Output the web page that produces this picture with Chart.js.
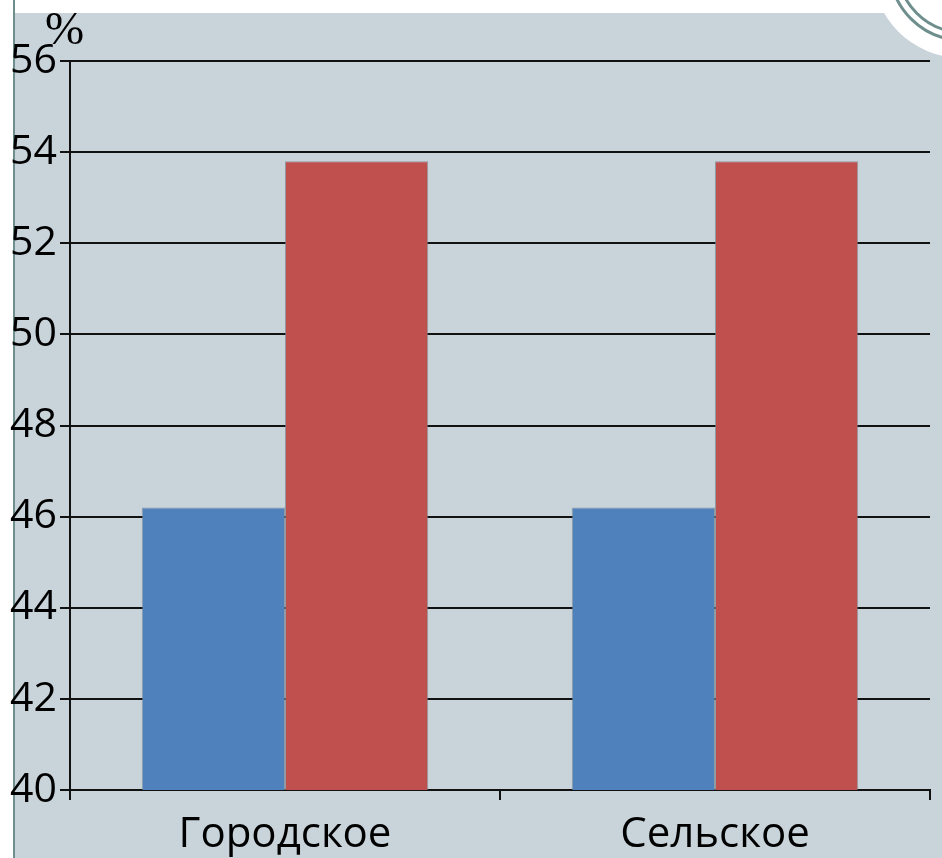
<!DOCTYPE html>
<html>
<head>
<meta charset="utf-8">
<script src="https://cdn.jsdelivr.net/npm/chart.js@4/dist/chart.umd.min.js"></script>
<style>
  html, body { margin: 0; padding: 0; background: #ffffff; }
  #wrap { position: relative; width: 942px; height: 858px; }
</style>
</head>
<body>
<div id="wrap"><canvas id="chart" width="942" height="858"></canvas></div>
<script>
'use strict';

// категории и значения (в %)
const categories = ['Городское', 'Сельское'];
const seriesBlue = [46.2, 46.2];
const seriesRed = [53.8, 53.8];
const yMin = 40;
const yMax = 56;
const yStep = 2;

const BG = '#c8d3da';

// фон слайда: серая область, линия слева и круг справа сверху
const slideBackground = {
    id: 'slideBackground',
    beforeDraw(chart) {
        const ctx = chart.ctx;
        const w = chart.width, h = chart.height;
        ctx.save();
        ctx.fillStyle = '#ffffff';
        ctx.fillRect(0, 0, w, h);
        ctx.fillStyle = BG;
        ctx.fillRect(15, 13, w - 15, h - 13);
        // белый круг в углу
        ctx.fillStyle = '#ffffff';
        ctx.beginPath();
        ctx.arc(962, -32, 90, 0, Math.PI * 2);
        ctx.fill();
        ctx.strokeStyle = '#6f8f8f';
        ctx.lineWidth = 3;
        ctx.beginPath();
        ctx.arc(962, -32, 72, 0, Math.PI * 2);
        ctx.stroke();
        ctx.beginPath();
        ctx.arc(962, -32, 64, 0, Math.PI * 2);
        ctx.stroke();
        // вертикальная линия слева
        ctx.fillStyle = '#6f8f8f';
        ctx.fillRect(13, 0, 2, h);
        ctx.restore();
    },
    afterDraw(chart) {
        const ctx = chart.ctx;
        ctx.save();
        ctx.fillStyle = '#000000';
        ctx.font = '47px "Liberation Serif"';
        ctx.textAlign = 'left';
        ctx.textBaseline = 'alphabetic';
        ctx.fillText('%', 45, 44);
        ctx.restore();
    }
};

const ctx = document.getElementById('chart').getContext('2d');
new Chart(ctx, {
    type: 'bar',
    data: {
        labels: categories,
        datasets: [
            {
                label: 'Ряд 1',
                data: seriesBlue,
                backgroundColor: '#4f81bd',
                borderColor: 'rgba(120,130,140,0.7)',
                borderWidth: 1
            },
            {
                label: 'Ряд 2',
                data: seriesRed,
                backgroundColor: '#c0504d',
                borderColor: 'rgba(120,130,140,0.7)',
                borderWidth: 1
            }
        ]
    },
    options: {
        responsive: false,
        animation: false,
        devicePixelRatio: 1,
        layout: { padding: { top: 61, right: 12, left: 0, bottom: 0 } },
        plugins: {
            legend: { display: false },
            tooltip: { enabled: false }
        },
        datasets: {
            bar: { categoryPercentage: 0.666, barPercentage: 1.0 }
        },
        scales: {
            x: {
                afterFit(scale) { scale.height = 68; },
                border: { display: true, color: '#111111', width: 2 },
                grid: {
                    offset: true,
                    drawOnChartArea: false,
                    drawTicks: true,
                    tickLength: 10,
                    color: '#111111',
                    lineWidth: 2
                },
                ticks: {
                    color: '#000000',
                    padding: 10,
                    font: { family: '"Open Sans"', size: 42 }
                }
            },
            y: {
                min: yMin,
                max: yMax,
                afterFit(scale) { scale.width = 70; },
                border: { display: true, color: '#111111', width: 2 },
                grid: {
                    color: '#111111',
                    lineWidth: 2,
                    tickLength: 10
                },
                ticks: {
                    stepSize: yStep,
                    color: '#000000',
                    padding: 3,
                    font: { family: '"Open Sans"', size: 41 }
                }
            }
        }
    },
    plugins: [slideBackground]
});
</script>
</body>
</html>
